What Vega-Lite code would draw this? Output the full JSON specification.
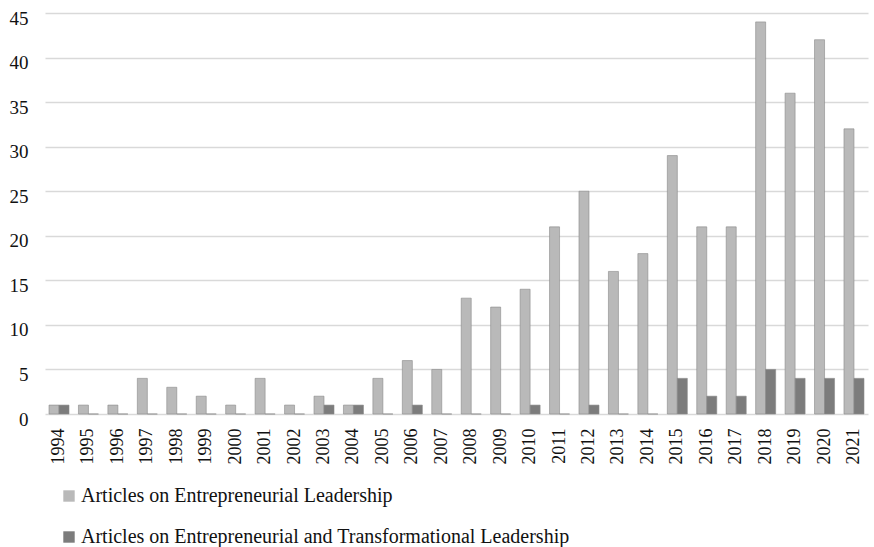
{
  "$schema": "https://vega.github.io/schema/vega-lite/v6.json",
  "autosize": {"type": "none"},
  "width": 823,
  "height": 401,
  "padding": {"left": 45, "top": 13, "right": 6, "bottom": 133},
  "background": "white",
  "config": {
    "font": "Times New Roman, Liberation Serif, DejaVu Serif, serif",
    "view": {"stroke": null}
  },
  "data": {
    "values": [
      {"year": "1994", "series": "Articles on Entrepreneurial Leadership", "count": 1},
      {"year": "1995", "series": "Articles on Entrepreneurial Leadership", "count": 1},
      {"year": "1996", "series": "Articles on Entrepreneurial Leadership", "count": 1},
      {"year": "1997", "series": "Articles on Entrepreneurial Leadership", "count": 4},
      {"year": "1998", "series": "Articles on Entrepreneurial Leadership", "count": 3},
      {"year": "1999", "series": "Articles on Entrepreneurial Leadership", "count": 2},
      {"year": "2000", "series": "Articles on Entrepreneurial Leadership", "count": 1},
      {"year": "2001", "series": "Articles on Entrepreneurial Leadership", "count": 4},
      {"year": "2002", "series": "Articles on Entrepreneurial Leadership", "count": 1},
      {"year": "2003", "series": "Articles on Entrepreneurial Leadership", "count": 2},
      {"year": "2004", "series": "Articles on Entrepreneurial Leadership", "count": 1},
      {"year": "2005", "series": "Articles on Entrepreneurial Leadership", "count": 4},
      {"year": "2006", "series": "Articles on Entrepreneurial Leadership", "count": 6},
      {"year": "2007", "series": "Articles on Entrepreneurial Leadership", "count": 5},
      {"year": "2008", "series": "Articles on Entrepreneurial Leadership", "count": 13},
      {"year": "2009", "series": "Articles on Entrepreneurial Leadership", "count": 12},
      {"year": "2010", "series": "Articles on Entrepreneurial Leadership", "count": 14},
      {"year": "2011", "series": "Articles on Entrepreneurial Leadership", "count": 21},
      {"year": "2012", "series": "Articles on Entrepreneurial Leadership", "count": 25},
      {"year": "2013", "series": "Articles on Entrepreneurial Leadership", "count": 16},
      {"year": "2014", "series": "Articles on Entrepreneurial Leadership", "count": 18},
      {"year": "2015", "series": "Articles on Entrepreneurial Leadership", "count": 29},
      {"year": "2016", "series": "Articles on Entrepreneurial Leadership", "count": 21},
      {"year": "2017", "series": "Articles on Entrepreneurial Leadership", "count": 21},
      {"year": "2018", "series": "Articles on Entrepreneurial Leadership", "count": 44},
      {"year": "2019", "series": "Articles on Entrepreneurial Leadership", "count": 36},
      {"year": "2020", "series": "Articles on Entrepreneurial Leadership", "count": 42},
      {"year": "2021", "series": "Articles on Entrepreneurial Leadership", "count": 32},
      {"year": "1994", "series": "Articles on Entrepreneurial and Transformational Leadership", "count": 1},
      {"year": "1995", "series": "Articles on Entrepreneurial and Transformational Leadership", "count": 0},
      {"year": "1996", "series": "Articles on Entrepreneurial and Transformational Leadership", "count": 0},
      {"year": "1997", "series": "Articles on Entrepreneurial and Transformational Leadership", "count": 0},
      {"year": "1998", "series": "Articles on Entrepreneurial and Transformational Leadership", "count": 0},
      {"year": "1999", "series": "Articles on Entrepreneurial and Transformational Leadership", "count": 0},
      {"year": "2000", "series": "Articles on Entrepreneurial and Transformational Leadership", "count": 0},
      {"year": "2001", "series": "Articles on Entrepreneurial and Transformational Leadership", "count": 0},
      {"year": "2002", "series": "Articles on Entrepreneurial and Transformational Leadership", "count": 0},
      {"year": "2003", "series": "Articles on Entrepreneurial and Transformational Leadership", "count": 1},
      {"year": "2004", "series": "Articles on Entrepreneurial and Transformational Leadership", "count": 1},
      {"year": "2005", "series": "Articles on Entrepreneurial and Transformational Leadership", "count": 0},
      {"year": "2006", "series": "Articles on Entrepreneurial and Transformational Leadership", "count": 1},
      {"year": "2007", "series": "Articles on Entrepreneurial and Transformational Leadership", "count": 0},
      {"year": "2008", "series": "Articles on Entrepreneurial and Transformational Leadership", "count": 0},
      {"year": "2009", "series": "Articles on Entrepreneurial and Transformational Leadership", "count": 0},
      {"year": "2010", "series": "Articles on Entrepreneurial and Transformational Leadership", "count": 1},
      {"year": "2011", "series": "Articles on Entrepreneurial and Transformational Leadership", "count": 0},
      {"year": "2012", "series": "Articles on Entrepreneurial and Transformational Leadership", "count": 1},
      {"year": "2013", "series": "Articles on Entrepreneurial and Transformational Leadership", "count": 0},
      {"year": "2014", "series": "Articles on Entrepreneurial and Transformational Leadership", "count": 0},
      {"year": "2015", "series": "Articles on Entrepreneurial and Transformational Leadership", "count": 4},
      {"year": "2016", "series": "Articles on Entrepreneurial and Transformational Leadership", "count": 2},
      {"year": "2017", "series": "Articles on Entrepreneurial and Transformational Leadership", "count": 2},
      {"year": "2018", "series": "Articles on Entrepreneurial and Transformational Leadership", "count": 5},
      {"year": "2019", "series": "Articles on Entrepreneurial and Transformational Leadership", "count": 4},
      {"year": "2020", "series": "Articles on Entrepreneurial and Transformational Leadership", "count": 4},
      {"year": "2021", "series": "Articles on Entrepreneurial and Transformational Leadership", "count": 4}
    ]
  },
  "mark": {"type": "bar", "stroke": "#8a8a8a", "strokeWidth": 0.6},
  "encoding": {
    "x": {
      "field": "year",
      "type": "ordinal",
      "scale": {"paddingInner": 0.32, "paddingOuter": 0.136},
      "axis": {
        "title": null,
        "labelAngle": -90,
        "labelAlign": "right",
        "labelBaseline": "middle",
        "labelFont": "Times New Roman, Liberation Serif, DejaVu Serif, serif",
        "labelFontSize": 18,
        "labelColor": "#111",
        "labelPadding": 14,
        "ticks": false,
        "domain": false,
        "grid": false
      }
    },
    "xOffset": {"field": "series", "type": "nominal"},
    "y": {
      "field": "count",
      "type": "quantitative",
      "scale": {"domain": [0, 45], "nice": false},
      "axis": {
        "title": null,
        "values": [0, 5, 10, 15, 20, 25, 30, 35, 40, 45],
        "labelFont": "Times New Roman, Liberation Serif, DejaVu Serif, serif",
        "labelFontSize": 19,
        "labelColor": "#111",
        "labelPadding": 17,
        "labelOffset": 5,
        "ticks": false,
        "domain": false,
        "grid": true,
        "gridColor": "#d9d9d9",
        "gridWidth": 1.5
      }
    },
    "color": {
      "field": "series",
      "type": "nominal",
      "scale": {
        "domain": ["Articles on Entrepreneurial Leadership", "Articles on Entrepreneurial and Transformational Leadership"],
        "range": ["#b9b9b9", "#7c7c7c"]
      },
      "legend": {
        "title": null,
        "orient": "none",
        "direction": "vertical",
        "legendX": 14,
        "legendY": 473,
        "symbolType": "square",
        "symbolSize": 130,
        "symbolStrokeWidth": 0,
        "labelFont": "Times New Roman, Liberation Serif, DejaVu Serif, serif",
        "labelFontSize": 20,
        "labelColor": "#111",
        "labelLimit": 800,
        "rowPadding": 21,
        "labelOffset": 2
      }
    }
  }
}
